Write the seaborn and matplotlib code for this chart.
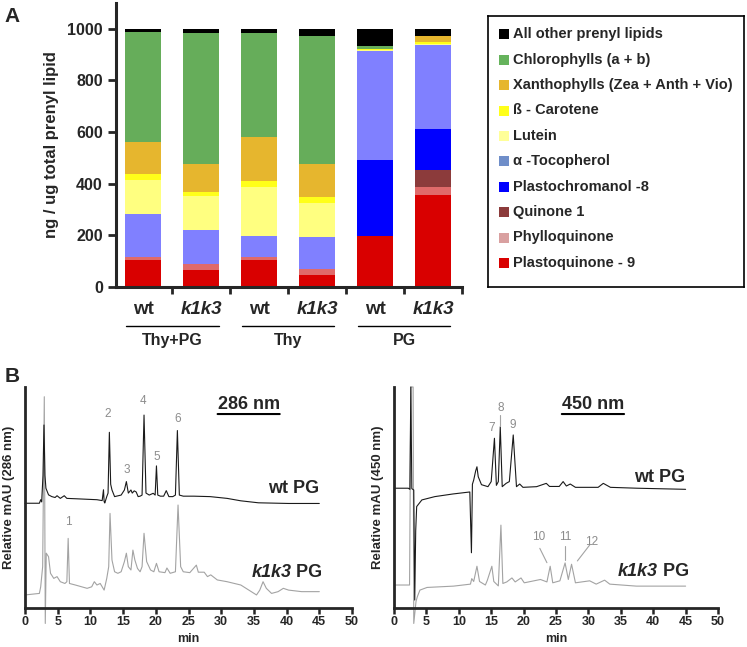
import numpy as np
import pandas as pd
import matplotlib
matplotlib.use("Agg")
import matplotlib.pyplot as plt
import seaborn as sns

sns.set_style("ticks")
plt.rcParams['font.family'] = ['Liberation Sans', 'DejaVu Sans']
plt.rcParams['font.weight'] = 'bold'
plt.rcParams['axes.labelweight'] = 'bold'

# PANEL A DATA (ng / ug total prenyl lipid)
samples = ['wt', 'k1k3', 'wt', 'k1k3', 'wt', 'k1k3']
groups = ['Thy+PG', 'Thy', 'PG']
bar_ids = ['Thy+PG wt', 'Thy+PG k1k3', 'Thy wt', 'Thy k1k3', 'PG wt', 'PG k1k3']

pq9 = [106, 67, 106, 48, 198, 358]
phyllo = [10, 24, 10, 23, 0, 28]
quinone1 = [0, 0, 0, 0, 0, 66]
pc8 = [0, 0, 0, 0, 292, 160]
tocopherol = [165, 129, 83, 121, 425, 326]
lutein = [133, 132, 187, 134, 4, 5]
bcarotene = [23, 17, 23, 23, 3, 5]
xanthophylls = [124, 106, 173, 126, 0, 26]
chlorophylls = [426, 508, 401, 498, 10, 0]
other = [13, 17, 17, 27, 68, 26]

stack = [pq9, phyllo, quinone1, pc8, tocopherol, lutein, bcarotene,
         xanthophylls, chlorophylls, other]
stack_names = ['Plastoquinone - 9', 'Phylloquinone', 'Quinone 1',
               'Plastochromanol -8', 'α -Tocopherol', 'Lutein', 'ß - Carotene',
               'Xanthophylls (Zea + Anth + Vio)', 'Chlorophylls (a + b)',
               'All other prenyl lipids']
bar_colors = ['#d90000', '#e06a6a', '#8c3b3b', '#0000ff', '#8080ff',
              '#ffff80', '#ffff1a', '#e6b62e', '#66ad5a', '#000000']
legend_colors = ['#d90000', '#d9a0a0', '#8c3b3b', '#0000ff', '#6f8ec9',
                 '#ffff99', '#ffff1a', '#e6b62e', '#66b35c', '#000000']

# PANEL B DATA (time in min, relative mAU)
wt286 = [(0, 47.4), (2.2, 47.4), (2.4, 49), (2.55, 48), (2.75, 60), (2.9, 82.8),
         (3.05, 60), (3.2, 54.2), (3.6, 51.2), (4.1, 50.4), (4.6, 50), (4.9, 50.8),
         (5.4, 49.6), (6.0, 50.8), (6.4, 49.6), (8.0, 49.4), (9.5, 49.2), (11.0, 49),
         (11.8, 48.6), (12.0, 53.5), (12.1, 48.1), (12.2, 47.5), (12.5, 50.4),
         (12.7, 52), (12.9, 79.5), (13.1, 56), (13.3, 53.4), (13.7, 50.4),
         (14.7, 51.1), (15.2, 53.4), (15.5, 57.2), (15.8, 52), (16.2, 53.4),
         (16.4, 52), (16.7, 53), (17.0, 52.5), (17.3, 50.4), (17.6, 50.6),
         (17.9, 51.1), (18.2, 87.3), (18.5, 52), (19.0, 51.1), (19.6, 51.9),
         (19.9, 51.1), (20.1, 64.3), (20.3, 51.1), (20.7, 50.6), (21.2, 50.6),
         (21.6, 53.1), (22.0, 50.4), (22.6, 50.4), (23.0, 51.1), (23.3, 80.3),
         (23.6, 51.1), (24.2, 50.6), (25.8, 50.6), (28.3, 50.4), (30.9, 49.6),
         (33.0, 48.5), (35.7, 47.6), (40.3, 47.3), (45.0, 47.3)]
k1k3_286 = [(0, 5.9), (2.2, 6.6), (2.4, 9.6), (2.7, 18.7), (2.95, 95.6), (3.1, -7),
            (3.25, 24.8), (3.6, 23.2), (3.9, 15.7), (4.4, 13.4), (4.9, 14.2),
            (5.4, 11.9), (6.1, 11.1), (6.4, 11.9), (6.6, 31.5), (6.8, 11.1),
            (7.7, 10.4), (9.5, 8.9), (10.2, 9.6), (10.6, 11.9), (11.0, 10.4),
            (11.5, 11.1), (12.1, 8.1), (12.5, 13.4), (12.8, 18.7), (13.0, 42.8),
            (13.3, 21.7), (13.7, 16.4), (14.2, 15.7), (14.7, 16.4), (15.2, 21.0),
            (15.5, 24.8), (15.8, 18.7), (16.2, 17.2), (16.5, 26.2), (16.8, 21.7),
            (17.2, 17.9), (17.6, 16.4), (17.9, 18.7), (18.2, 33.8), (18.6, 21),
            (19.2, 17.2), (19.7, 16.4), (20.1, 20.2), (20.5, 16.4), (21.4, 16),
            (21.7, 18.1), (22.2, 15.7), (23.0, 16.4), (23.4, 46.6), (23.8, 18.7),
            (24.2, 16.4), (25.2, 16), (26.2, 19.4), (26.5, 16.2), (27.4, 16.2),
            (27.9, 14.2), (28.4, 15), (29.4, 12.7), (30.9, 11.9), (33.0, 10.4),
            (34.6, 7.4), (35.4, 5.9), (35.9, 8.1), (36.4, 11.9), (36.9, 8.9),
            (37.7, 6.6), (38.7, 7.4), (39.5, 8.9), (40.3, 8.1), (42.3, 7.4),
            (45.0, 7.4)]
wt450 = [(0.1, 54.2), (2.2, 54.2), (2.45, 53.7), (2.6, 100), (2.75, 54), (3.05, 53.4),
         (3.2, 3.6), (3.35, 35), (3.5, 45.9), (4.3, 48.9), (6.3, 50.4), (9.1, 51.6),
         (11.7, 52.5), (11.95, 25), (12.1, 56), (12.3, 57.9), (12.6, 62), (12.8, 63.9),
         (13.0, 59.4), (13.5, 55.8), (14.5, 54.9), (15.0, 57.2), (15.5, 76.8),
         (15.8, 55.5), (16.1, 57.2), (16.4, 82.0), (16.7, 54.9), (17.3, 56.4),
         (17.8, 57.2), (18.4, 78.3), (18.9, 54.9), (19.4, 56.1), (19.9, 54.6),
         (22.0, 54.9), (23.5, 56.4), (24.0, 55.0), (25.5, 55.0), (26.1, 57.2),
         (26.6, 55.2), (27.2, 56.1), (28.0, 54.6), (29.2, 54.6), (31.5, 54.6),
         (32.3, 56.4), (33.4, 54.6), (37.5, 54.2), (45.0, 53.7)]
k1k3_450 = [(0.1, 10.4), (2.4, 10.4), (2.6, 100), (2.95, 100), (3.05, -7), (3.4, 3),
            (3.6, 5.1), (4.0, 8.1), (5.1, 9.3), (9.2, 9.9), (11.8, 10.8), (12.0, 13.3),
            (12.3, 12), (12.8, 18.9), (13.2, 12), (14.1, 10.4), (14.4, 12.5),
            (15.1, 18.9), (15.4, 12), (16.1, 10), (16.5, 37.5), (16.8, 11.1),
            (17.4, 11.8), (18.2, 13.6), (18.7, 11.8), (19.6, 13.6), (20.1, 11.4),
            (21.6, 12.3), (22.6, 12.9), (23.6, 11.8), (24.1, 18.9), (24.5, 11.4),
            (25.6, 12.3), (26.4, 20.4), (26.9, 12.9), (27.4, 19.8), (28.0, 11.4),
            (30.2, 12.3), (31.2, 10.8), (32.5, 12.6), (33.3, 10.8), (37.4, 9.9),
            (45.0, 9.9)]

peaks286 = [('1', 6.6, 39), ('2', 12.7, 88), ('3', 15.5, 62.4), ('4', 18.1, 93.8),
            ('5', 20.1, 68.5), ('6', 23.3, 85.4)]
peaks450 = [('7', 15.1, 81.3), ('8', 16.4, 90.3), ('9', 18.4, 82.7),
            ('10', 22.3, 32), ('11', 26.5, 32), ('12', 30.5, 30)]

fig = plt.figure(figsize=(7.47, 6.47), dpi=100)

# PANEL A: stacked bars
axA = fig.add_axes([116/747, 1 - 287/647, 346/747, 284/647])
cum = np.cumsum(np.array(stack), axis=0)
for i in range(len(stack) - 1, -1, -1):
    sns.barplot(x=bar_ids, y=cum[i], color=bar_colors[i], width=0.62,
                saturation=1, errorbar=None, linewidth=0, ax=axA)

axA.set_xlim(-0.47, 5.5)
axA.set_ylim(0, 1100)
axA.set_yticks(range(0, 1001, 200))
axA.set_xticks(range(6))
axA.set_xticklabels(samples, fontsize=13.5)
for lab in axA.get_xticklabels():
    if lab.get_text() == 'k1k3':
        lab.set_style('italic')
axA.set_xticks(np.arange(0.5, 6, 1), minor=True)
axA.tick_params(axis='x', which='major', length=0, pad=10)
axA.tick_params(axis='x', which='minor', length=5, width=2)
axA.tick_params(axis='y', length=6, width=2, labelsize=11.5)
axA.set_ylabel('ng / ug total prenyl lipid', fontsize=12, labelpad=6)
sns.despine(ax=axA)
for s in ['left', 'bottom']:
    axA.spines[s].set_linewidth(2.2)

for gi, g in enumerate(groups):
    c = 2 * gi + 0.5
    axA.plot([c - 0.8, c + 0.8], [-0.136, -0.136], color='black', lw=1,
             transform=axA.get_xaxis_transform(), clip_on=False)
    axA.text(c, -0.19, g, ha='center', va='center', fontsize=11.5,
             transform=axA.get_xaxis_transform())

# legend box
lax = fig.add_axes([488/747, 1 - 287/647, 256/747, 271/647])
lax.set_xlim(0, 1)
lax.set_ylim(0, 1)
lax.set_xticks([])
lax.set_yticks([])
for s in lax.spines.values():
    s.set_linewidth(1.2)
    s.set_color('black')
for k in range(len(stack)):
    i = len(stack) - 1 - k
    yy = (287 - (34.3 + 25.4 * k)) / 271
    lax.scatter([0.062], [yy], marker='s', s=45, color=legend_colors[i], linewidths=0)
    lax.text(0.098, yy, stack_names[i], fontsize=10.5, va='center', ha='left')

fig.text(0.006, 1 - 17/647, 'A', fontsize=15, fontweight='bold', va='center')

# PANEL B: chromatograms
axL = fig.add_axes([25/747, 1 - 608/647, 327/747, 221/647])
axR = fig.add_axes([394/747, 1 - 608/647, 324/747, 221/647])

panels = [(axL, wt286, k1k3_286, peaks286, '286 nm', 34.2, 54, 16),
          (axR, wt450, k1k3_450, peaks450, '450 nm', 30.7, 59, 16.4)]
for ax, wt, ko, peaks, nm, nm_x, wt_y, ko_y in panels:
    wt_df = pd.DataFrame(wt, columns=['t', 'v'])
    ko_df = pd.DataFrame(ko, columns=['t', 'v'])
    sns.lineplot(data=ko_df, x='t', y='v', color='#a3a3a3', lw=0.8,
                 estimator=None, sort=False, ax=ax)
    sns.lineplot(data=wt_df, x='t', y='v', color='#1a1a1a', lw=0.8,
                 estimator=None, sort=False, ax=ax)
    for ln in ax.lines:
        ln.set_clip_on(False)
    ax.set_xlim(0, 50)
    ax.set_ylim(0, 100)
    ax.set_xticks(range(0, 51, 5))
    ax.set_yticks([])
    ax.tick_params(axis='x', length=4, width=1.8, labelsize=9, pad=2)
    ax.set_xlabel('min', fontsize=9, labelpad=3)
    ax.set_ylabel(f'Relative mAU ({nm})', fontsize=9.5, labelpad=7)
    sns.despine(ax=ax)
    for s in ['left', 'bottom']:
        ax.spines[s].set_linewidth(2)
    for lab, t, v in peaks:
        ax.text(t, v, lab, color='#8c8c8c', fontsize=8.5, fontweight='normal',
                ha='center', va='center')
    txt = ax.text(nm_x, 92, nm, fontsize=13, ha='center', va='center')
    ax.annotate('', xy=(0, -0.05), xytext=(1, -0.05), xycoords=txt, textcoords=txt,
                arrowprops=dict(arrowstyle='-', lw=1.5, color='black',
                                shrinkA=0, shrinkB=0))
    ax.text(45, wt_y, 'wt PG', fontsize=13, ha='right', va='center')
    pg = ax.text(45.5, ko_y, ' PG', fontsize=13, ha='right', va='center')
    ax.annotate('k1k3', xy=(0, 0.5), xycoords=pg, ha='right', va='center',
                fontsize=13, style='italic', fontweight='bold')

# leader lines for the 450 nm minor peaks
for (x0, y0), (x1, y1) in [((22.5, 27), (23.6, 20.5)), ((26.4, 28.2), (26.4, 21.7)),
                           ((30.2, 28.5), (28.3, 21.3)), ((16.4, 82.5), (16.4, 87.5))]:
    axR.plot([x0, x1], [y0, y1], color='#a3a3a3', lw=0.8)

fig.text(0.006, 1 - 377/647, 'B', fontsize=15, fontweight='bold', va='center')

fig.savefig('out.png', dpi=100)
